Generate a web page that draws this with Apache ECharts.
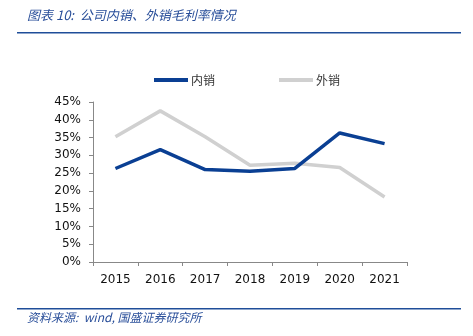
<!DOCTYPE html>
<html><head><meta charset="utf-8">
<script src="https://cdn.jsdelivr.net/npm/echarts@6/dist/echarts.min.js"></script>
<style>html,body{margin:0;padding:0;background:#fff}#c{width:473px;height:336px}</style>
</head><body><div id="c"></div>
<script>
const categories = ['2015','2016','2017','2018','2019','2020','2021'];
const domestic = [26.3, 31.6, 26.0, 25.5, 26.3, 36.3, 33.3];
const overseas = [35.2, 42.5, 35.2, 27.2, 27.8, 26.6, 18.3];
const yTicks = [0, 5, 10, 15, 20, 25, 30, 35, 40, 45];
const seriesNames = ['内销', '外销'];

const chart = echarts.init(document.getElementById('c'), null, {renderer: 'canvas'});
const font = 'DejaVu Sans, Verdana, sans-serif';
chart.setOption({
  animation: false,
  backgroundColor: '#fff',
  graphic: [
    {type: 'text', left: 27, top: 9, style: {text: '图表 10:  公司内销、外销毛利率情况', fill: '#2a4f9a', font: 'italic 13px "Noto Sans CJK SC", sans-serif'}},
    {type: 'rect', shape: {x: 17, y: 32, width: 444, height: 1.5}, style: {fill: '#1f4e99'}},
    {type: 'rect', shape: {x: 17, y: 308, width: 444, height: 1.5}, style: {fill: '#1f4e99'}},
    {type: 'text', left: 27, top: 311, style: {text: '资料来源:  wind, 国盛证券研究所', fill: '#2a4f9a', font: 'italic 12px "Noto Sans CJK SC", sans-serif'}}
  ],
  legend: {
    top: 69, left: 149, itemGap: 64, itemWidth: 34, itemHeight: 4,
    icon: 'rect',
    textStyle: {fontSize: 12, color: '#333', fontFamily: '"Noto Sans CJK SC", sans-serif', padding: [0,0,0,-2]},
    data: seriesNames
  },
  grid: {left: 93, right: 66, top: 102, bottom: 74},
  xAxis: {
    type: 'category', data: categories, boundaryGap: true,
    axisLine: {lineStyle: {color: '#888', width: 1}},
    axisTick: {show: true, length: 4, lineStyle: {color: '#888'}},
    axisLabel: {color: '#111', fontSize: 12, fontFamily: font, margin: 12}
  },
  yAxis: {
    type: 'value', min: 0, max: 45, interval: 5,
    axisLine: {show: true, lineStyle: {color: '#888', width: 1}},
    axisTick: {show: true, length: 4, lineStyle: {color: '#888'}},
    splitLine: {show: false},
    axisLabel: {color: '#111', fontSize: 12, fontFamily: font, margin: 12, formatter: v => yTicks.includes(v) ? v + '%' : ''}
  },
  series: [
    {name: seriesNames[0], type: 'line', data: domestic, symbol: 'none', lineStyle: {color: '#0a3f93', width: 3.5}, itemStyle: {color: '#0a3f93'}, z: 3},
    {name: seriesNames[1], type: 'line', data: overseas, symbol: 'none', lineStyle: {color: '#d0d0d0', width: 3.5}, itemStyle: {color: '#d0d0d0'}, z: 2}
  ]
});
</script></body></html>
